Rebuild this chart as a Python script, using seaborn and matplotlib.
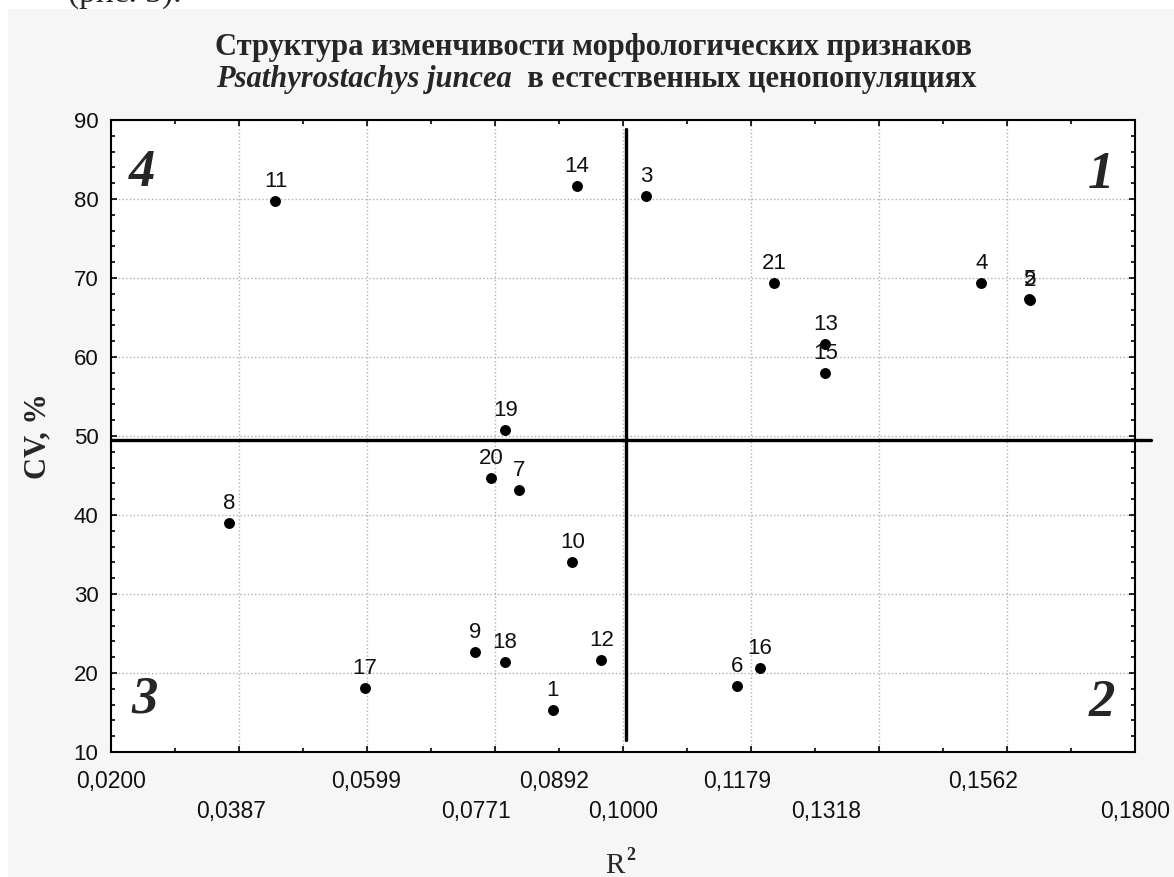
import matplotlib
matplotlib.use('Agg')
import matplotlib.pyplot as plt
import matplotlib.patches as patches
from matplotlib.ticker import MultipleLocator, NullFormatter
import pandas as pd
import seaborn as sns

# points: number of feature, R^2, CV %
point_ids = ["1", "2", "3", "4", "5", "6", "7", "8", "9", "10", "11",
             "12", "13", "14", "15", "16", "17", "18", "19", "20", "21"]
r2_values = [0.0890, 0.1636, 0.1036, 0.1560, 0.1634, 0.1178, 0.0837, 0.0385,
             0.0769, 0.0921, 0.0457, 0.0966, 0.1316, 0.0928, 0.1316, 0.1214,
             0.0597, 0.0815, 0.0816, 0.0794, 0.1236]
cv_values = [15.3, 67.2, 80.4, 69.4, 67.4, 18.3, 43.2, 39.0, 22.6, 34.0, 79.8,
             21.7, 61.6, 81.6, 58.0, 20.6, 18.1, 21.4, 50.8, 44.7, 69.4]

# x tick labels (two rows)
xlabel_row1 = [0.0200, 0.0599, 0.0892, 0.1179, 0.1562]
xlabel_row2 = [0.0387, 0.0771, 0.1000, 0.1318, 0.1800]

# quadrant split lines
split_r2 = 0.1004
split_cv = 49.45
split_r2_span = (11.5, 88.8)

# quadrant numbers
quad_names = ["1", "2", "3", "4"]
quad_r2 = [0.1747, 0.1748, 0.0253, 0.0248]
quad_cv = [83.0, 16.2, 16.6, 83.3]

df = pd.DataFrame({"id": point_ids, "r2": r2_values, "cv": cv_values})

sns.set_style("white")
plt.rcParams['font.family'] = ['Liberation Sans', 'DejaVu Sans']

W, H = 1174, 877
fig = plt.figure(figsize=(W / 100, H / 100), dpi=100)
fig.patch.set_facecolor("white")
fig.patches.append(patches.Rectangle((8 / W, 0), 1 - 8 / W, 1 - 9 / H,
                                     transform=fig.transFigure,
                                     facecolor="#f6f6f6", edgecolor="none", zorder=-5))
# cut-off line of the surrounding document text
fig.text(68 / W, 1 - 2 / H, "(рис. 3).", family="Liberation Serif", fontsize=24,
         va="baseline", ha="left", zorder=2)

ax = fig.add_axes([111 / W, 1 - 752 / H, (1135 - 111) / W, (752 - 120) / H])
ax.set_facecolor("white")

sns.scatterplot(data=df, x="r2", y="cv", color="black", s=62, linewidth=0,
                ax=ax, legend=False, zorder=5)

for _, row in df.iterrows():
    ax.annotate(row["id"], (row["r2"], row["cv"]), xytext=(0, 6.5),
                textcoords="offset points", ha="center", va="bottom",
                fontsize=16, color="#111111", zorder=6)

ax.set_xlim(0.02, 0.18)
ax.set_ylim(10, 90)
ax.xaxis.set_major_locator(MultipleLocator(0.02))
ax.xaxis.set_minor_locator(MultipleLocator(0.01))
ax.xaxis.set_major_formatter(NullFormatter())
ax.yaxis.set_major_locator(MultipleLocator(10))
ax.yaxis.set_minor_locator(MultipleLocator(2))
ax.grid(True, which="major", linestyle=":", color="#b0b0b0", linewidth=1.0)
ax.tick_params(which="both", direction="in", top=True, right=True,
               bottom=True, left=True, color="black", width=1.2)
ax.tick_params(which="major", length=4.5)
ax.tick_params(which="minor", length=3)
ax.tick_params(axis="y", labelsize=16, pad=9, labelcolor="#111111")
for sp in ax.spines.values():
    sp.set_color("black")
    sp.set_linewidth(1.5)
ax.set_xlabel("")
ax.set_ylabel("")

xt = ax.get_xaxis_transform()
for v in xlabel_row1:
    ax.text(v, -0.046, f"{v:.4f}".replace(".", ","), transform=xt, ha="center",
            va="center", fontsize=16.5, color="#111111", clip_on=False)
for v in xlabel_row2:
    ax.text(v, -0.094, f"{v:.4f}".replace(".", ","), transform=xt, ha="center",
            va="center", fontsize=16.5, color="#111111", clip_on=False)

# quadrant divider lines
lo, hi = ax.get_ylim()
ax.axvline(split_r2, ymin=(split_r2_span[0] - lo) / (hi - lo),
           ymax=(split_r2_span[1] - lo) / (hi - lo), color="black", linewidth=2.4, zorder=4)
ax.axhline(split_cv, xmin=0, xmax=1.016, color="black", linewidth=2.4,
           zorder=4, clip_on=False)

for name, qx, qy in zip(quad_names, quad_r2, quad_cv):
    ax.text(qx, qy, name, family="Liberation Serif", fontweight="bold",
            fontstyle="italic", fontsize=38, ha="center", va="center", zorder=6)

# titles and axis names
fig.text(594 / W, 1 - 48 / H, "Структура изменчивости морфологических признаков",
         family="Liberation Serif", fontweight="bold", fontsize=22,
         ha="center", va="center")
t1 = fig.text(0, 1 - 80 / H, "Psathyrostachys juncea", family="Liberation Serif",
              fontweight="bold", fontstyle="italic", fontsize=22, ha="left", va="center")
t2 = fig.text(0, 1 - 80 / H, "  в естественных ценопопуляциях", family="Liberation Serif",
              fontweight="bold", fontsize=22, ha="left", va="center")
renderer = fig.canvas.get_renderer()
w1 = t1.get_window_extent(renderer).width
w2 = t2.get_window_extent(renderer).width
start = 596 - (w1 + w2) / 2
t1.set_x(start / W)
t2.set_x((start + w1) / W)

fig.text(38 / W, 1 - 436 / H, "CV, %", family="Liberation Serif", fontweight="bold",
         fontsize=22, rotation=90, ha="center", va="center")
fig.text(615 / W, 1 - 866 / H, "R", family="Liberation Serif", fontsize=21,
         ha="center", va="center")
fig.text(631 / W, 1 - 856 / H, "2", family="Liberation Serif", fontweight="bold",
         fontsize=13, ha="center", va="center")

fig.savefig("out.png", dpi=100, facecolor=fig.get_facecolor())
